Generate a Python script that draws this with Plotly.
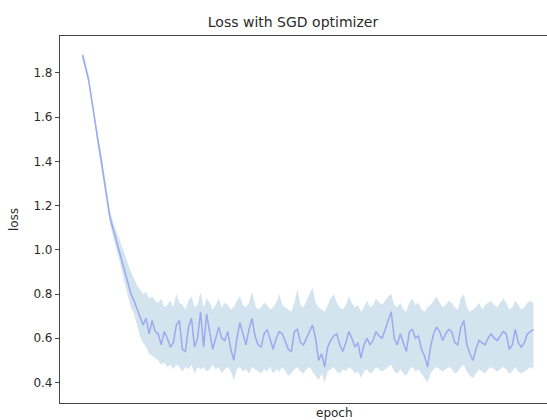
import plotly.graph_objects as go

epochs = list(range(150))

loss_mean = [
    1.88, 1.83, 1.77, 1.68, 1.60, 1.50, 1.42, 1.33, 1.24, 1.15,
    1.10, 1.05, 1.00, 0.95, 0.89, 0.85, 0.80, 0.77, 0.73, 0.70,
    0.66, 0.69, 0.62, 0.68, 0.63, 0.62, 0.57, 0.63, 0.60, 0.56,
    0.58, 0.66, 0.68, 0.55, 0.54, 0.65, 0.69, 0.56, 0.60, 0.72,
    0.56, 0.71, 0.62, 0.55, 0.60, 0.65, 0.60, 0.59, 0.63, 0.55,
    0.50, 0.60, 0.67, 0.62, 0.57, 0.64, 0.69, 0.61, 0.57, 0.56,
    0.62, 0.64, 0.59, 0.55, 0.60, 0.63, 0.62, 0.58, 0.55, 0.54,
    0.63, 0.64, 0.58, 0.57, 0.60, 0.63, 0.66, 0.60, 0.50, 0.53,
    0.47, 0.56, 0.59, 0.61, 0.62, 0.57, 0.54, 0.58, 0.63, 0.60,
    0.56, 0.58, 0.51, 0.57, 0.60, 0.57, 0.59, 0.63, 0.61, 0.60,
    0.64, 0.69, 0.72, 0.60, 0.57, 0.62, 0.58, 0.54, 0.63, 0.64,
    0.60, 0.61, 0.55, 0.52, 0.47, 0.56, 0.62, 0.65, 0.63, 0.59,
    0.62, 0.64, 0.63, 0.58, 0.57, 0.65, 0.68, 0.57, 0.53, 0.50,
    0.55, 0.59, 0.58, 0.57, 0.60, 0.62, 0.60, 0.59, 0.61, 0.63,
    0.62, 0.55, 0.57, 0.64, 0.58, 0.56, 0.58, 0.62, 0.63, 0.64,
]

loss_hi = [
    1.90, 1.85, 1.79, 1.70, 1.62, 1.53, 1.45, 1.36, 1.27, 1.18,
    1.13, 1.09, 1.05, 1.01, 0.97, 0.93, 0.90, 0.87, 0.84, 0.82,
    0.80, 0.81, 0.78, 0.79, 0.77, 0.76, 0.78, 0.74, 0.75, 0.77,
    0.74, 0.80, 0.76, 0.75, 0.73, 0.77, 0.79, 0.74, 0.75, 0.81,
    0.74, 0.78, 0.76, 0.73, 0.75, 0.78, 0.74, 0.76, 0.75, 0.73,
    0.74, 0.77, 0.79, 0.75, 0.74, 0.76, 0.81, 0.75, 0.73, 0.74,
    0.76, 0.75, 0.73, 0.74, 0.76, 0.80, 0.75, 0.74, 0.73, 0.72,
    0.76, 0.82, 0.75, 0.74, 0.77, 0.80, 0.83, 0.76, 0.74, 0.73,
    0.72, 0.75, 0.78, 0.80, 0.76, 0.74, 0.73, 0.75, 0.79, 0.76,
    0.74, 0.75, 0.72, 0.74, 0.77, 0.74, 0.75, 0.78, 0.76, 0.75,
    0.77, 0.79, 0.80, 0.75, 0.74, 0.76, 0.73, 0.72, 0.76, 0.78,
    0.75, 0.76, 0.73, 0.72, 0.74, 0.75, 0.77, 0.79, 0.76, 0.74,
    0.75, 0.77, 0.76, 0.74, 0.73, 0.78, 0.80, 0.74, 0.72, 0.73,
    0.74, 0.76, 0.73, 0.75, 0.76, 0.77, 0.75, 0.74, 0.76, 0.78,
    0.76, 0.73, 0.74, 0.77, 0.75, 0.73, 0.74, 0.76, 0.77, 0.76,
]

loss_lo = [
    1.86, 1.81, 1.75, 1.66, 1.58, 1.47, 1.39, 1.30, 1.21, 1.12,
    1.06, 1.01, 0.96, 0.90, 0.84, 0.79, 0.74, 0.71, 0.66, 0.61,
    0.58, 0.56, 0.53, 0.52, 0.51, 0.50, 0.48, 0.49, 0.47, 0.48,
    0.46, 0.48, 0.47, 0.45, 0.47, 0.46, 0.48, 0.44, 0.47, 0.46,
    0.47, 0.45, 0.46, 0.48, 0.46, 0.47, 0.44, 0.46, 0.47, 0.45,
    0.41, 0.46, 0.47, 0.45, 0.46, 0.44, 0.47, 0.46, 0.45, 0.44,
    0.46, 0.45, 0.47, 0.44, 0.46, 0.45, 0.47, 0.45, 0.43, 0.44,
    0.46, 0.47, 0.45, 0.44, 0.46, 0.47, 0.45, 0.43, 0.41, 0.44,
    0.40, 0.45, 0.46, 0.47, 0.45, 0.44, 0.46, 0.45, 0.47, 0.46,
    0.44, 0.45, 0.42, 0.45, 0.46, 0.44, 0.45, 0.47, 0.46, 0.45,
    0.46, 0.47, 0.48, 0.45, 0.44, 0.46, 0.44, 0.43, 0.46, 0.47,
    0.45, 0.46, 0.44, 0.42, 0.40, 0.44, 0.46, 0.47, 0.46, 0.45,
    0.46, 0.47, 0.46, 0.44, 0.45, 0.47, 0.48, 0.45, 0.43, 0.42,
    0.44, 0.46, 0.45, 0.44, 0.46, 0.47, 0.46, 0.45, 0.46, 0.47,
    0.46, 0.44, 0.45, 0.47, 0.45, 0.44, 0.45, 0.46, 0.47, 0.46,
]

y_ticks = [0.4, 0.6, 0.8, 1.0, 1.2, 1.4, 1.6, 1.8]
y_tick_labels = ["0.4", "0.6", "0.8", "1.0", "1.2", "1.4", "1.6", "1.8"]

FONT = "DejaVu Sans, Liberation Sans, sans-serif"
TXT = "#2b2b2b"

fig = go.Figure()
fig.add_trace(go.Scatter(x=epochs, y=loss_lo, mode="lines",
                         line=dict(width=0, color="rgba(0,0,0,0)"),
                         showlegend=False, hoverinfo="skip"))
fig.add_trace(go.Scatter(x=epochs, y=loss_hi, mode="lines",
                         line=dict(width=0, color="rgba(0,0,0,0)"),
                         fill="tonexty", fillcolor="#d3e4ef",
                         showlegend=False, hoverinfo="skip"))
fig.add_trace(go.Scatter(x=epochs, y=loss_mean, mode="lines",
                         line=dict(width=1.5, color="#9ea8ee"),
                         showlegend=False))

n = len(epochs)
pad = 0.05 * (n - 1)
x_lo = -pad
# full axes would span to (n-1)+pad but the right side is cropped by the frame
px_per_unit = 496.0 / ((n - 1) + 2 * pad)
x_hi = x_lo + 487.0 / px_per_unit

fig.update_layout(
    width=547, height=420,
    margin=dict(l=60, r=0, t=36, b=17),
    paper_bgcolor="white", plot_bgcolor="white",
    font=dict(family=FONT, size=12, color=TXT),
    title=dict(text="Loss with SGD optimizer", x=293 / 547, xref="container",
               xanchor="center", y=1 - 22 / 420, yref="container", yanchor="middle",
               font=dict(family=FONT, size=14, color=TXT)),
    xaxis=dict(range=[x_lo, x_hi], showticklabels=False, ticks="",
               showgrid=False, zeroline=False, showline=True, linecolor="#444",
               linewidth=1.2, mirror=True),
    yaxis=dict(range=[0.307, 1.967], tickvals=y_ticks, ticktext=y_tick_labels,
               ticks="outside", ticklen=4, tickcolor="#444", tickwidth=1,
               showgrid=False, zeroline=False, showline=True, linecolor="#444",
               linewidth=1.2, tickfont=dict(family=FONT, size=12, color=TXT),
               title=dict(text="loss", standoff=12,
                          font=dict(family=FONT, size=12, color=TXT))),
    annotations=[dict(text="epoch", x=308 / 547, xref="paper", y=-10 / 367,
                      yref="paper", xanchor="center", yanchor="middle",
                      showarrow=False, font=dict(family=FONT, size=12, color=TXT))],
)

fig.write_html("out.html")
